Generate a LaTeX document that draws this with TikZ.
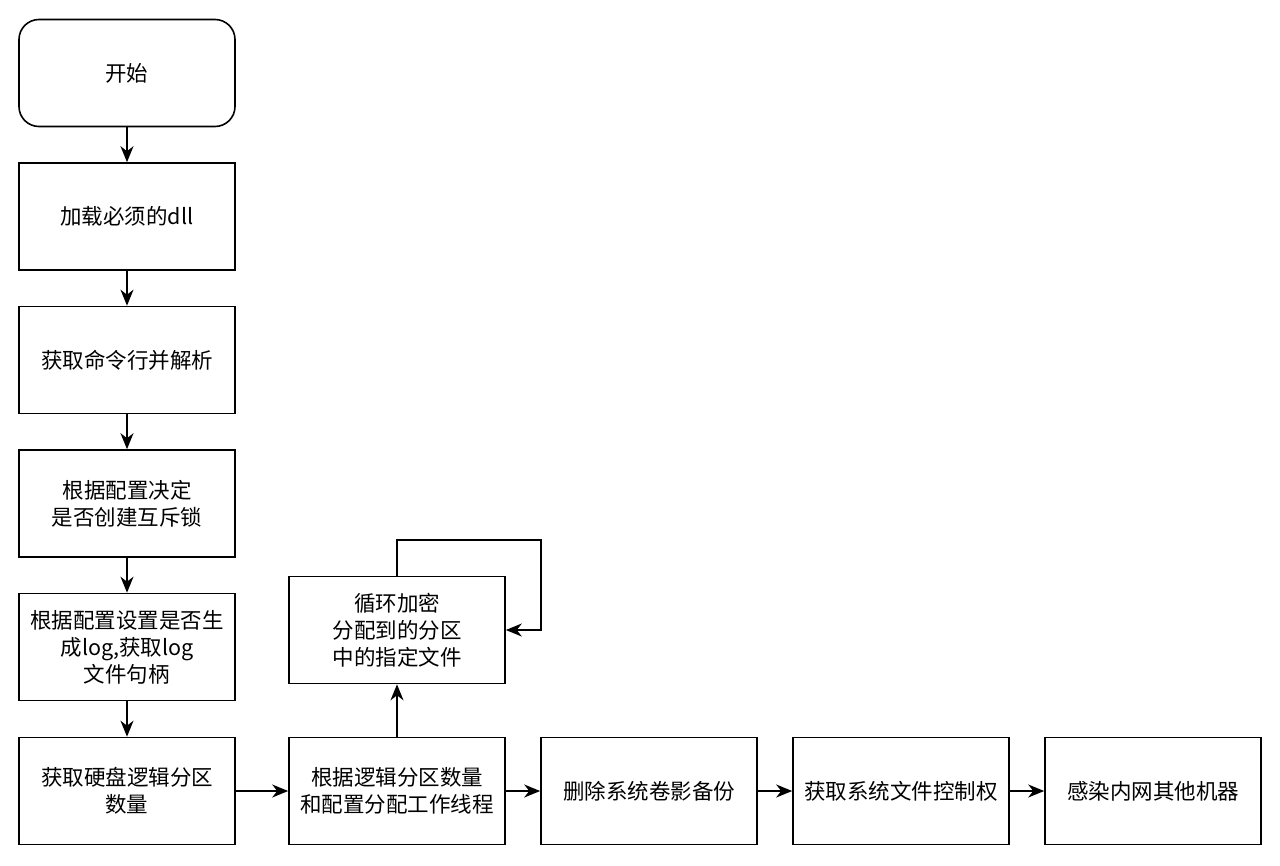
\documentclass[tikz,border=0pt]{standalone}
\usepackage{fontspec}
\setmainfont{Noto Sans CJK SC}
\usetikzlibrary{arrows.meta}
\begin{document}
\begin{tikzpicture}[x=1pt,y=-1pt,
  box/.style={draw=black,line width=1.6pt,fill=white,minimum width=216pt,minimum height=107pt,
    inner sep=2pt,align=center,font=\fontsize{21.5pt}{27pt}\selectfont,text width=210pt},
  startbox/.style={box,rounded corners=20pt},
  conn/.style={draw=black,line width=1.6pt,-{Stealth[length=16pt,width=13pt,inset=5pt]}}]
\useasboundingbox (0,0) rectangle (1280,865);
\node[startbox] (start) at (127,73) {开始};
\node[box] (dll) at (127,216.5) {加载必须的dll};
\node[box] (cmd) at (127,360) {获取命令行并解析};
\node[box] (mutex) at (127,503.5) {根据配置决定\\是否创建互斥锁};
\node[box] (log) at (127,647) {根据配置设置是否生\\成log,获取log\\文件句柄};
\node[box] (disk) at (127,791) {获取硬盘逻辑分区\\数量};
\node[box] (thread) at (397,791) {根据逻辑分区数量\\和配置分配工作线程};
\node[box] (shadow) at (649,791) {删除系统卷影备份};
\node[box] (ctrl) at (901,791) {获取系统文件控制权};
\node[box] (infect) at (1153,791) {感染内网其他机器};
\node[box] (enc) at (397,630) {循环加密\\分配到的分区\\中的指定文件};
\coordinate (c1) at (397,540);
\coordinate (c2) at (541,540);
\coordinate (c3) at (541,630);
\draw[conn] (start) -- (dll);
\draw[conn] (dll) -- (cmd);
\draw[conn] (cmd) -- (mutex);
\draw[conn] (mutex) -- (log);
\draw[conn] (log) -- (disk);
\draw[conn] (disk) -- (thread);
\draw[conn] (thread) -- (shadow);
\draw[conn] (shadow) -- (ctrl);
\draw[conn] (ctrl) -- (infect);
\draw[conn] (thread) -- (enc);
\draw[conn] (enc.north) -- (c1) -- (c2) -- (c3) -- (enc.east);
\end{tikzpicture}
\end{document}
